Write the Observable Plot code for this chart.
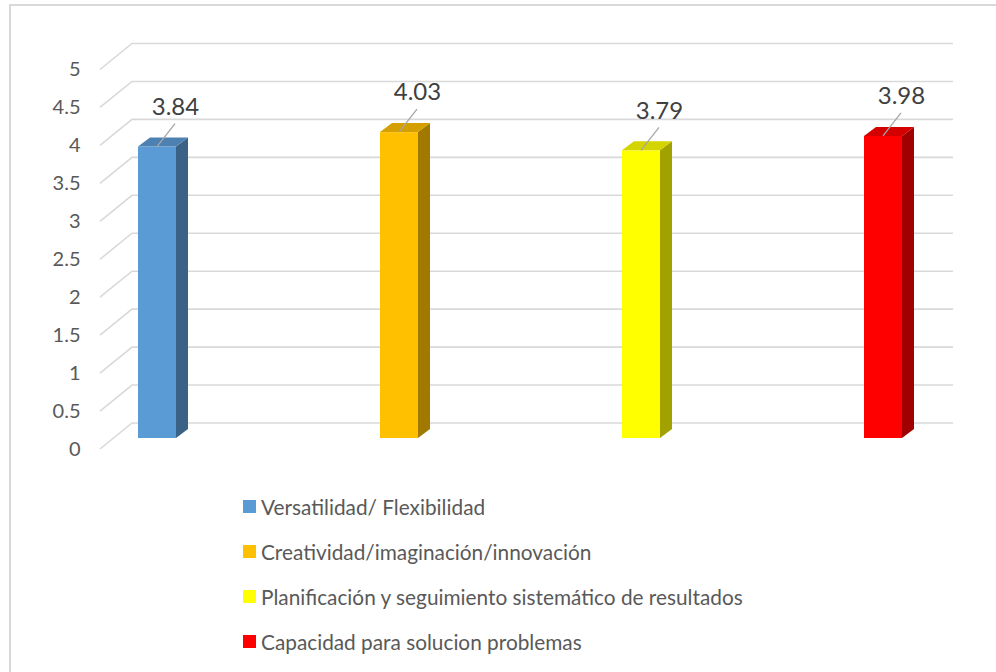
<!DOCTYPE html>
<html>
<head>
<meta charset="utf-8">
<script src="https://cdn.jsdelivr.net/npm/d3@7"></script>
<script src="https://cdn.jsdelivr.net/npm/@observablehq/plot@0.6"></script>
<style>
  html, body { margin: 0; padding: 0; background: #fff; }
  #wrap { position: relative; width: 996px; height: 672px; overflow: hidden; font-family: Lato, "Open Sans", sans-serif; }
  #frame { position: absolute; left: 9px; top: 4px; width: 1200px; height: 900px; border-top: 2px solid #d9d9d9; border-left: 2px solid #d9d9d9; }
  #chart { position: absolute; left: 0; top: 0; }
  #legend { position: absolute; left: 243px; top: 494px; }
  .row { position: absolute; left: 0; height: 24px; display: flex; align-items: center; white-space: nowrap; font-size: 20.8px; color: #595959; }
  .sw { width: 13px; height: 13px; margin-right: 5px; flex: none; }
</style>
</head>
<body>
<div id="wrap">
  <div id="frame"></div>
  <div id="chart"></div>
  <div id="legend"></div>
</div>
<script>
const categories = [
  "Versatilidad/ Flexibilidad",
  "Creatividad/imaginación/innovación",
  "Planificación y seguimiento sistemático de resultados",
  "Capacidad para solucion problemas"
];
const values = [3.84, 4.03, 3.79, 3.98];
const colors = ["#5b9bd5", "#ffc000", "#ffff00", "#ff0000"];
const yTicks = [0, 0.5, 1, 1.5, 2, 2.5, 3, 3.5, 4, 4.5, 5];

const data = categories.map((name, i) => ({name, value: values[i], color: colors[i], label: values[i].toFixed(2)}));

const DEPTH_X = 12, DEPTH_Y = 9;     // bar depth in pixels
const BACK_DY = -15, FRONT_DY = 11;  // wall / floor offsets from the bar plane
const WALL_LEFT = 132, WALL_RIGHT = 953, FLOOR_LEFT = 100;

function shade(c, k) {
  const r = d3.rgb(c);
  return d3.rgb(r.r * k, r.g * k, r.b * k).formatHex();
}

const svgNS = "http://www.w3.org/2000/svg";
function el(tag, attrs) {
  const e = document.createElementNS(svgNS, tag);
  for (const k in attrs) e.setAttribute(k, attrs[k]);
  return e;
}

// 3D gridlines: back wall + side floor diagonals
function gridMark(index, scales) {
  const g = el("g", {stroke: "#d9d9d9", "stroke-width": 1.6, fill: "none"});
  for (const t of yTicks) {
    const y = scales.y(t);
    g.appendChild(el("polyline", {points: `${FLOOR_LEFT},${y + FRONT_DY} ${WALL_LEFT},${y + BACK_DY} ${WALL_RIGHT},${y + BACK_DY}`}));
  }
  return g;
}

// top and side faces of the bars
function facesMark(index, scales) {
  const g = el("g", {});
  const bw = scales.x.bandwidth ? scales.x.bandwidth() : 38;
  for (const d of data) {
    const x0 = scales.x(d.name), x1 = x0 + bw;
    const yt = scales.y(d.value), yb = scales.y(0);
    g.appendChild(el("polygon", {
      points: `${x1},${yt} ${x1 + DEPTH_X},${yt - DEPTH_Y} ${x1 + DEPTH_X},${yb - DEPTH_Y} ${x1},${yb}`,
      fill: shade(d.color, 0.63)
    }));
    g.appendChild(el("polygon", {
      points: `${x0},${yt} ${x0 + DEPTH_X},${yt - DEPTH_Y} ${x1 + DEPTH_X},${yt - DEPTH_Y} ${x1},${yt}`,
      fill: shade(d.color, 0.83)
    }));
  }
  return g;
}

// leader lines from bar top to label
function leadersMark(index, scales) {
  const g = el("g", {stroke: "#a6a6a6", "stroke-width": 1.3});
  const bw = scales.x.bandwidth ? scales.x.bandwidth() : 38;
  for (const d of data) {
    const cx = scales.x(d.name) + bw / 2;
    const yt = scales.y(d.value);
    g.appendChild(el("line", {x1: cx, y1: yt, x2: cx + 18, y2: yt - 23}));
  }
  return g;
}

const chart = Plot.plot({
  width: 996,
  height: 480,
  marginLeft: 100,
  marginRight: 40,
  marginTop: 20,
  marginBottom: 20,
  style: {fontFamily: "Lato, 'Open Sans', sans-serif", background: "transparent", color: "#595959", overflow: "visible"},
  x: {type: "band", domain: categories, range: [138, 904], paddingInner: 0.843, paddingOuter: 0, align: 0, axis: null},
  y: {domain: [0, 5], range: [438, 438 - 5 * 75.9], axis: null},
  color: {type: "identity"},
  marks: [
    gridMark,
    Plot.barY(data, {x: "name", y: "value", fill: "color"}),
    facesMark,
    leadersMark,
    Plot.text(data, {x: "name", y: "value", text: "label", dx: 18, dy: -40, fontSize: 24, fill: "#404040"}),
    Plot.axisY({ticks: yTicks, tickFormat: d => String(d), tickSize: 0, tickPadding: 20, dy: FRONT_DY, fontSize: 20, fill: "#595959", label: null})
  ]
});
document.getElementById("chart").appendChild(chart);

const legend = document.getElementById("legend");
categories.forEach((name, i) => {
  const row = document.createElement("div");
  row.className = "row";
  row.style.top = (i * 45.3) + "px";
  const sw = document.createElement("span");
  sw.className = "sw";
  sw.style.background = colors[i];
  const tx = document.createElement("span");
  tx.textContent = name;
  row.appendChild(sw);
  row.appendChild(tx);
  legend.appendChild(row);
});
</script>
</body>
</html>
